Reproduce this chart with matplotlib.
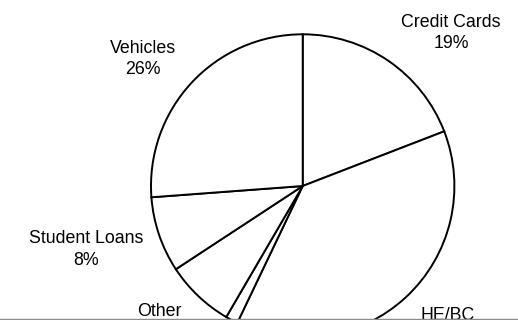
import matplotlib.pyplot as plt
from matplotlib.lines import Line2D

# Consumer debt shares (percent), clockwise from 12 o'clock
categories = ['Credit Cards', 'HE/BC', '', 'Other', 'Student Loans', 'Vehicles']
shares = [19, 37.7, 1.3, 7.3, 8, 26]

# Label anchor points in pie-radius units (centre of the two-line label)
label_pos = {
    'Credit Cards': (0.978, 1.010),
    'Vehicles': (-1.053, 0.836),
    'Student Loans': (-1.428, -0.418),
    'Other': (-0.947, -0.900),
    'HE/BC': (0.958, -0.925),
}

plt.rcParams['font.family'] = ['Liberation Sans', 'DejaVu Sans']

fig = plt.figure(figsize=(5.18, 3.2), dpi=100)
ax = fig.add_axes([0, 0, 1, 1])

ax.pie(shares, startangle=90, counterclock=False,
       colors=['white'] * len(shares),
       wedgeprops=dict(edgecolor='black', linewidth=1.4))

for name, val in zip(categories, shares):
    if name in label_pos:
        x, y = label_pos[name]
        ax.text(x, y, f'{name}\n{val:.0f}%', ha='center', va='center',
                fontsize=12.8, linespacing=1.35)

# pixel scale: radius ~152 px, centre at (303, 186) from top-left
r = 151.7
ax.set_xlim(-302.7 / r, (518 - 302.7) / r)
ax.set_ylim(-(320 - 186) / r, 186 / r)
ax.axis('off')

# thin grey rule along the bottom edge
fig.add_artist(Line2D([0, 1], [0.6 / 320, 0.6 / 320], transform=fig.transFigure,
                      color='#8c8c8c', linewidth=1.0))

plt.savefig('out.png', dpi=100)
